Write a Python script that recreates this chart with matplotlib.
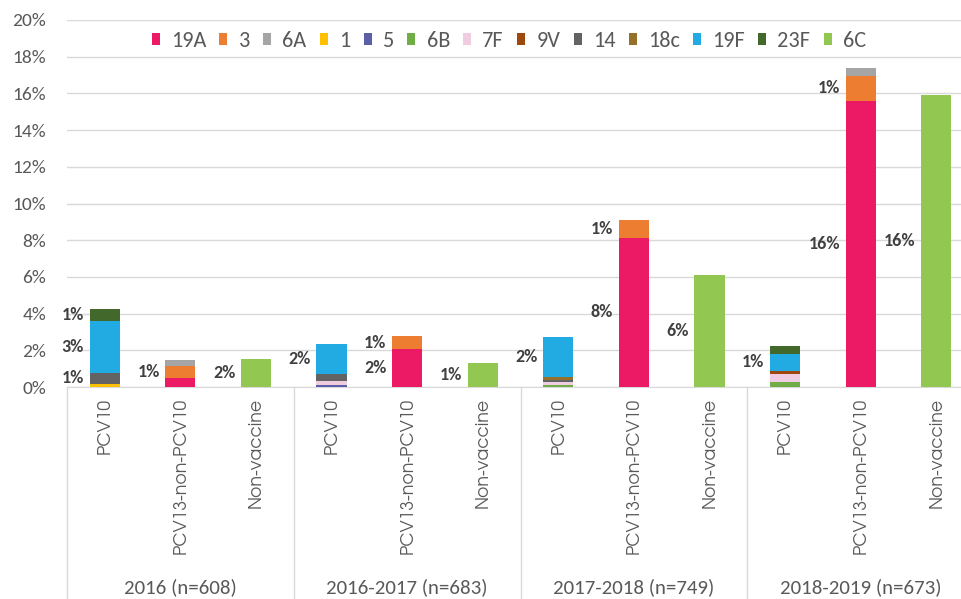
import matplotlib.pyplot as plt
import matplotlib.transforms as mtransforms
import matplotlib.ticker as mtick
import numpy as np

# ---- data (percent of isolates) ----
years = ["2016 (n=608)", "2016-2017 (n=683)", "2017-2018 (n=749)", "2018-2019 (n=673)"]
categories = ["PCV10", "PCV13-non-PCV10", "Non-vaccine"]

serotypes = ["19A", "3", "6A", "1", "5", "6B", "7F", "9V", "14", "18c", "19F", "23F", "6C"]
colors = ["#EC1A64", "#ED7D31", "#A5A5A5", "#FFC000", "#5A5FA8", "#70AD47", "#F0CCE0",
          "#9E480E", "#636363", "#94702A", "#22ABE2", "#43682B", "#92C852"]

# one value per bar: [2016 x3, 2016-2017 x3, 2017-2018 x3, 2018-2019 x3]
v_19A = [0, 0.49, 0, 0, 2.05, 0, 0, 8.14, 0, 0, 15.6, 0]
v_3 = [0, 0.64, 0, 0, 0.73, 0, 0, 0.96, 0, 0, 1.35, 0]
v_6A = [0, 0.34, 0, 0, 0, 0, 0, 0, 0, 0, 0.44, 0]
v_1 = [0.16, 0, 0, 0, 0, 0, 0, 0, 0, 0, 0, 0]
v_5 = [0, 0, 0, 0.12, 0, 0, 0, 0, 0, 0, 0, 0]
v_6B = [0, 0, 0, 0, 0, 0, 0.12, 0, 0, 0.29, 0, 0]
v_7F = [0, 0, 0, 0.2, 0, 0, 0.16, 0, 0, 0.42, 0, 0]
v_9V = [0, 0, 0, 0, 0, 0, 0, 0, 0, 0.18, 0, 0]
v_14 = [0.63, 0, 0, 0.4, 0, 0, 0.1, 0, 0, 0, 0, 0]
v_18c = [0, 0, 0, 0, 0, 0, 0.14, 0, 0, 0, 0, 0]
v_19F = [2.83, 0, 0, 1.6, 0, 0, 2.18, 0, 0, 0.91, 0, 0]
v_23F = [0.64, 0, 0, 0, 0, 0, 0, 0, 0, 0.44, 0, 0]
v_6C = [0, 0, 1.5, 0, 0, 1.31, 0, 0, 6.1, 0, 0, 15.9]

series = [v_19A, v_3, v_6A, v_1, v_5, v_6B, v_7F, v_9V, v_14, v_18c, v_19F, v_23F, v_6C]

TEXT = "#595959"
GRID = "#D9D9D9"
calibri = ["Carlito", "DejaVu Sans"]
gothic = ["TeX Gyre Adventor", "Didact Gothic", "Questrial", "DejaVu Sans"]

fig = plt.figure(figsize=(9.61, 5.99), dpi=100)
ax = fig.add_axes([67 / 961, 1 - 387 / 599, (974 - 67) / 961, 367 / 599])

x = np.arange(len(years) * len(categories))
bottom = np.zeros(len(x))
for name, vals, col in zip(serotypes, series, colors):
    vals = np.array(vals) / 100
    ax.bar(x, vals, 0.4, bottom=bottom, color=col, label=name, zorder=3)
    # data labels to the left of each segment (only if it rounds to >= 1%)
    for xi, b, v in zip(x, bottom, vals):
        if round(v * 100) >= 1:
            ax.annotate(f"{v * 100:.0f}%", (xi - 0.2, b + v / 2), xytext=(-4, 0),
                        textcoords="offset points", ha="right", va="center",
                        fontsize=13, fontweight="bold", color="#404040", family=calibri)
    bottom += vals

ax.set_xlim(-0.5, len(x) - 0.5)
ax.set_ylim(0, 0.20)
ax.yaxis.set_major_locator(mtick.MultipleLocator(0.02))
ax.yaxis.set_major_formatter(mtick.PercentFormatter(1.0, decimals=0))
ax.grid(axis="y", color=GRID, linewidth=1, zorder=0)
for s in ["left", "right", "top"]:
    ax.spines[s].set_visible(False)
ax.spines["bottom"].set_color(GRID)
ax.tick_params(axis="y", length=0, pad=15, labelsize=14, labelcolor=TEXT)
for t in ax.get_yticklabels():
    t.set_family(calibri)

ax.set_xticks(x)
ax.set_xticklabels(categories * len(years), rotation=90, fontsize=12.5, color=TEXT, family=gothic)
ax.tick_params(axis="x", length=0, pad=8)

# group labels and separators below the axis
trans = mtransforms.blended_transform_factory(ax.transData, ax.transAxes)
for i, yr in enumerate(years):
    ax.text(i * 3 + 1, -0.545, yr, transform=trans, ha="center", va="center",
            fontsize=15, color=TEXT, family=calibri)
for b in np.arange(len(years) + 1) * 3 - 0.5:
    ax.plot([b, b], [0, -0.6], transform=trans, color=GRID, lw=1, clip_on=False)

leg = ax.legend(loc="center", bbox_to_anchor=(0.487, 0.942), ncol=len(serotypes), frameon=False,
                handlelength=0.36, handleheight=0.45, handletextpad=0.5, columnspacing=0.6,
                prop={"family": calibri, "size": 16})
for t in leg.get_texts():
    t.set_color(TEXT)

fig.savefig("out.png", dpi=100)
